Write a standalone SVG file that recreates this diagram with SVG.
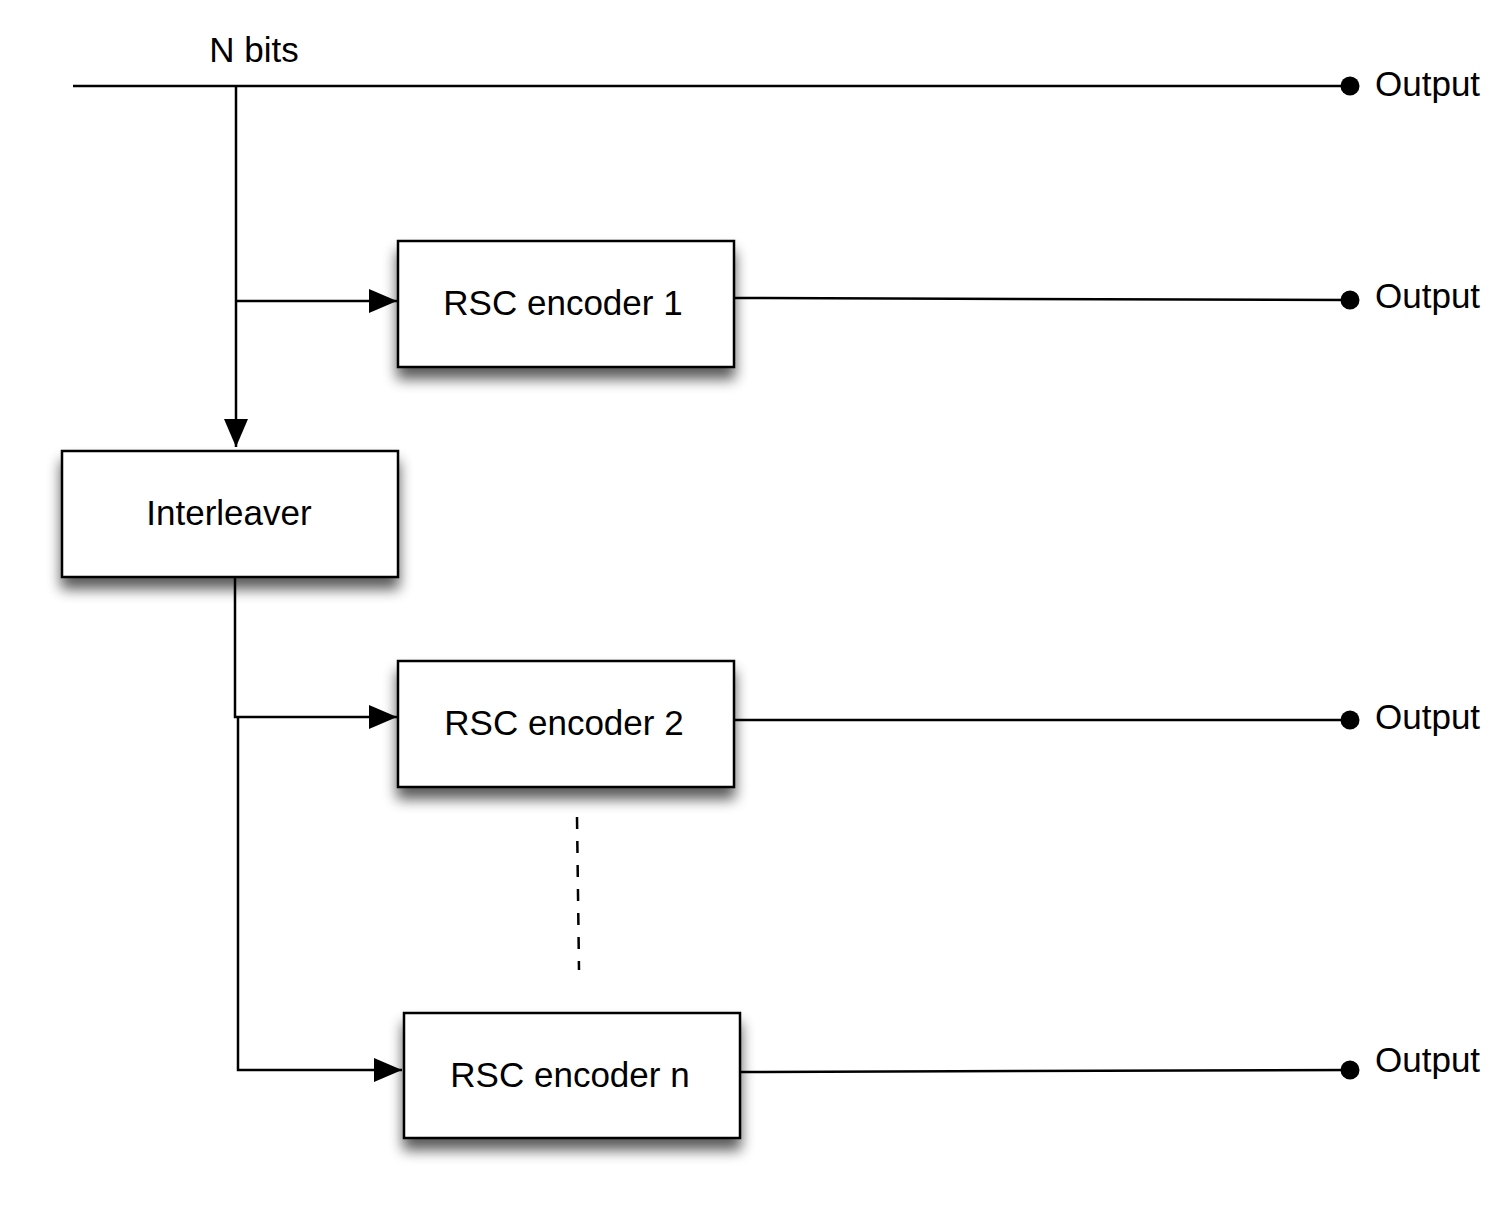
<svg xmlns="http://www.w3.org/2000/svg" width="1511" height="1209" viewBox="0 0 1511 1209">
<style>
.box{fill:#fff;stroke:#000;stroke-width:2.5}
.ln{fill:none;stroke:#000;stroke-width:2.5}
.t{font-family:"Liberation Sans",Arial,sans-serif;font-size:35px;fill:#000}
</style>
<defs>
<filter id="sh" x="-10%" y="-20%" width="125%" height="160%">
<feGaussianBlur in="SourceAlpha" stdDeviation="7"/>
<feOffset dx="0" dy="11" result="b"/>
<feComponentTransfer><feFuncA type="linear" slope="0.65"/></feComponentTransfer>
<feMerge><feMergeNode/><feMergeNode in="SourceGraphic"/></feMerge>
</filter>
<marker id="ar" markerUnits="userSpaceOnUse" markerWidth="30" markerHeight="26" refX="28" refY="12" orient="auto">
<path d="M0,0 L28,12 L0,24 Z" fill="#000"/>
</marker>
<marker id="dot" markerUnits="userSpaceOnUse" markerWidth="22" markerHeight="22" refX="11" refY="11" orient="auto">
<circle cx="11" cy="11" r="9.5" fill="#000"/>
</marker>
</defs>
<g id="connectors">
<line class="ln" x1="73" y1="86" x2="1350" y2="86" marker-end="url(#dot)"/>
<line class="ln" x1="236" y1="86" x2="236" y2="447" marker-end="url(#ar)"/>
<line class="ln" x1="236" y1="301" x2="397" y2="301" marker-end="url(#ar)"/>
<line class="ln" x1="734" y1="298" x2="1350" y2="300" marker-end="url(#dot)"/>
<polyline class="ln" points="235,575 235,717 397,717" marker-end="url(#ar)"/>
<polyline class="ln" points="238,717 238,1070 402,1070" marker-end="url(#ar)"/>
<line class="ln" x1="734" y1="720" x2="1350" y2="720" marker-end="url(#dot)"/>
<line class="ln" x1="740" y1="1072" x2="1350" y2="1070" marker-end="url(#dot)"/>
<line class="ln" x1="577" y1="817" x2="579" y2="970" stroke-width="3" stroke-dasharray="12,12"/>
</g>
<g id="rsc1">
<rect class="box" x="398" y="241" width="336" height="126" filter="url(#sh)"/>
<text class="t" x="563" y="315" text-anchor="middle">RSC encoder 1</text>
</g>
<g id="interleaver">
<rect class="box" x="62" y="451" width="336" height="126" filter="url(#sh)"/>
<text class="t" x="229" y="525" text-anchor="middle">Interleaver</text>
</g>
<g id="rsc2">
<rect class="box" x="398" y="661" width="336" height="126" filter="url(#sh)"/>
<text class="t" x="564" y="735" text-anchor="middle">RSC encoder 2</text>
</g>
<g id="rscn">
<rect class="box" x="404" y="1013" width="336" height="125" filter="url(#sh)"/>
<text class="t" x="570" y="1087" text-anchor="middle">RSC encoder n</text>
</g>
<g id="labels">
<text class="t" x="254" y="62" text-anchor="middle">N bits</text>
<text class="t" x="1375" y="96">Output</text>
<text class="t" x="1375" y="308">Output</text>
<text class="t" x="1375" y="729">Output</text>
<text class="t" x="1375" y="1072">Output</text>
</g>
</svg>
